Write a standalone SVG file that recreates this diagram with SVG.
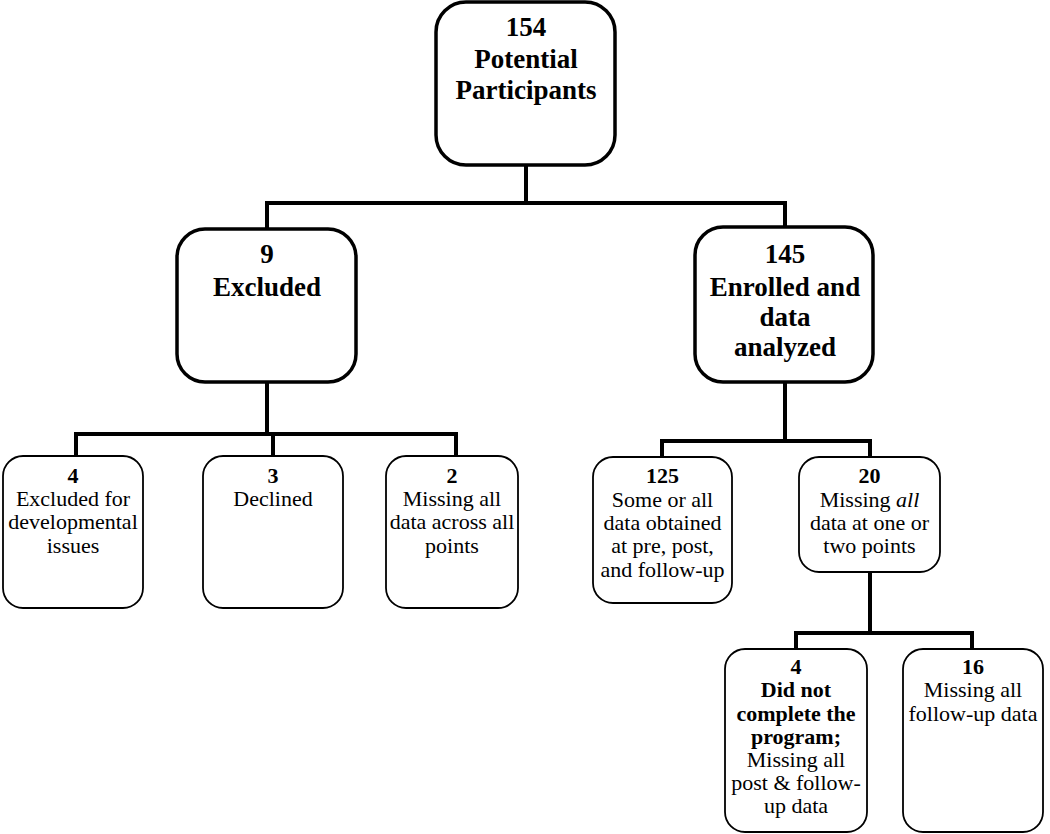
<svg xmlns="http://www.w3.org/2000/svg" width="1050" height="834" viewBox="0 0 1050 834">
<style>
.big{fill:#fff;stroke:#000;stroke-width:3.5}
.sm{fill:#fff;stroke:#000;stroke-width:1.8}
.conn{fill:none;stroke:#000;stroke-width:4;stroke-linejoin:miter;stroke-linecap:square}
text{fill:#000;text-anchor:middle;font-family:"Liberation Serif","Times New Roman",serif}
.t1{font-size:27px;font-weight:bold}
.t2{font-size:22px}
.b{font-weight:bold}
</style>
<rect width="1050" height="834" fill="#fff"/>
<g id="connectors">
<path class="conn" d="M526 166 V203 M267 203 H785 M267 203 V228 M785 203 V226"/>
<path class="conn" d="M267 383 V434 M76 434 H456 M76 434 V455 M273 434 V455 M456 434 V455"/>
<path class="conn" d="M785 383 V441 M662 441 H870 M662 441 V456 M870 441 V456"/>
<path class="conn" d="M870 573 V633 M796 633 H972 M796 633 V648 M972 633 V648"/>
</g>
<g id="n154">
<rect class="big" x="436" y="2" width="179" height="163" rx="30"/>
<text class="t1" x="526" y="36">154</text>
<text class="t1" x="526" y="68">Potential</text>
<text class="t1" x="526" y="99">Participants</text>
</g>
<g id="n9">
<rect class="big" x="177" y="229" width="179" height="153" rx="28"/>
<text class="t1" x="267" y="263">9</text>
<text class="t1" x="267" y="296">Excluded</text>
</g>
<g id="n145">
<rect class="big" x="695" y="227" width="178" height="155" rx="28"/>
<text class="t1" x="785" y="263">145</text>
<text class="t1" x="785" y="296">Enrolled and</text>
<text class="t1" x="785" y="326">data</text>
<text class="t1" x="785" y="356">analyzed</text>
</g>
<g id="n4a">
<rect class="sm" x="3" y="456" width="140" height="152" rx="20"/>
<text class="t2 b" x="73" y="483">4</text>
<text class="t2" x="73" y="506">Excluded for</text>
<text class="t2" x="73" y="529">developmental</text>
<text class="t2" x="73" y="553">issues</text>
</g>
<g id="n3">
<rect class="sm" x="203" y="456" width="140" height="152" rx="20"/>
<text class="t2 b" x="273" y="483">3</text>
<text class="t2" x="273" y="506">Declined</text>
</g>
<g id="n2">
<rect class="sm" x="386" y="456" width="132" height="152" rx="20"/>
<text class="t2 b" x="452" y="483">2</text>
<text class="t2" x="452" y="506">Missing all</text>
<text class="t2" x="452" y="529">data across all</text>
<text class="t2" x="452" y="553">points</text>
</g>
<g id="n125">
<rect class="sm" x="593" y="457" width="139" height="146" rx="20"/>
<text class="t2 b" x="662.5" y="483">125</text>
<text class="t2" x="662.5" y="507">Some or all</text>
<text class="t2" x="662.5" y="530">data obtained</text>
<text class="t2" x="662.5" y="553">at pre, post,</text>
<text class="t2" x="662.5" y="577">and follow-up</text>
</g>
<g id="n20">
<rect class="sm" x="799" y="457" width="141" height="115" rx="20"/>
<text class="t2 b" x="869.5" y="483">20</text>
<text class="t2" x="869.5" y="507">Missing <tspan font-style="italic">all</tspan></text>
<text class="t2" x="869.5" y="530">data at one or</text>
<text class="t2" x="869.5" y="553">two points</text>
</g>
<g id="n4b">
<rect class="sm" x="725" y="649" width="142" height="183" rx="20"/>
<text class="t2 b" x="796" y="674">4</text>
<text class="t2 b" x="796" y="697">Did not</text>
<text class="t2 b" x="796" y="721">complete the</text>
<text class="t2 b" x="796" y="744">program;</text>
<text class="t2" x="796" y="767">Missing all</text>
<text class="t2" x="796" y="790">post &amp; follow-</text>
<text class="t2" x="796" y="813">up data</text>
</g>
<g id="n16">
<rect class="sm" x="903" y="649" width="140" height="183" rx="20"/>
<text class="t2 b" x="973" y="674">16</text>
<text class="t2" x="973" y="697">Missing all</text>
<text class="t2" x="973" y="721">follow-up data</text>
</g>
</svg>
